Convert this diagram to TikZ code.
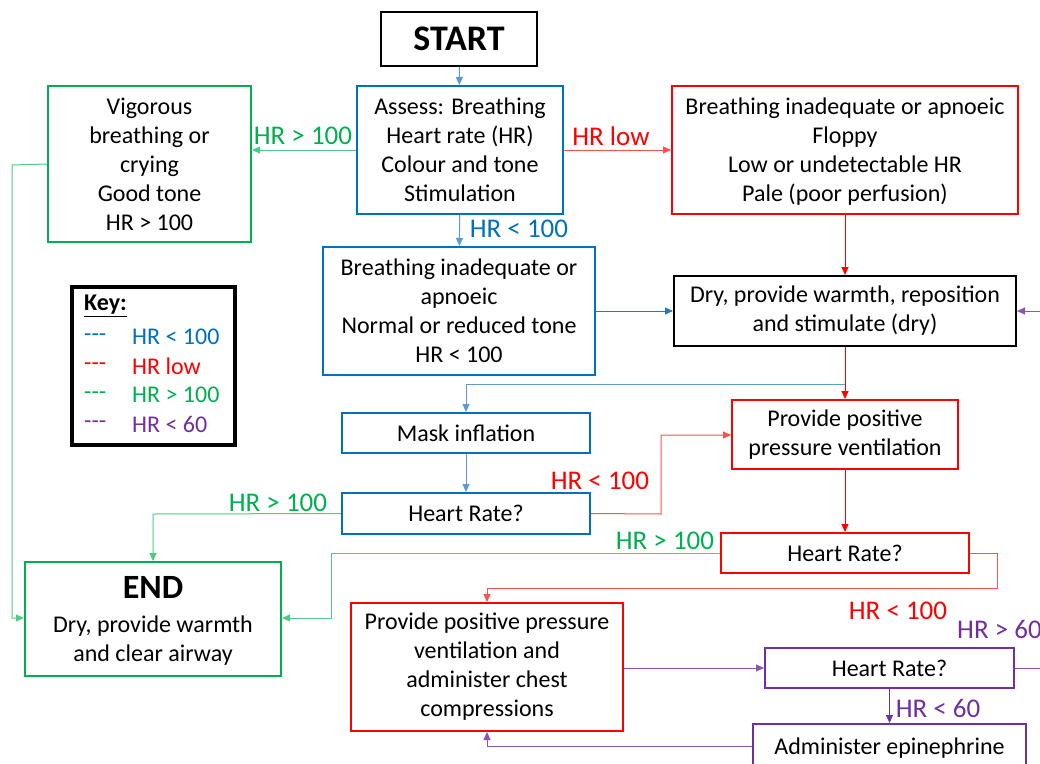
\documentclass[tikz,border=0pt]{standalone}
\usepackage{fontspec}
\setmainfont{Carlito}
\usetikzlibrary{arrows.meta}
\definecolor{cblue}{HTML}{0070C0}
\definecolor{lblue}{HTML}{5B9BD5}
\definecolor{mblue}{HTML}{2E75B6}
\definecolor{cred}{HTML}{FF0000}
\definecolor{lred}{HTML}{FF5050}
\definecolor{cgreen}{HTML}{00B050}
\definecolor{lgreen}{HTML}{4FCB85}
\definecolor{cpurple}{HTML}{7030A0}
\definecolor{lpurple}{HTML}{8A55B8}
\tikzset{
  box/.style={draw, line width=2pt, align=center, inner sep=0pt,
    font=\fontsize{24}{29}\selectfont, text=black},
  conn/.style={line width=1pt, -{Triangle[length=8pt,width=7pt]}},
  lbl/.style={inner sep=0pt, font=\fontsize{27}{30}\selectfont},
  keytxt/.style={inner sep=0pt, anchor=west, font=\fontsize{24}{28}\selectfont}
}
\begin{document}
\begin{tikzpicture}[x=1pt,y=-1pt]
\useasboundingbox (0,0) rectangle (1040,763);
\fill[white] (0,0) rectangle (1040,763);

% boxes
\node[box, minimum width=156pt, minimum height=54pt, line width=1.5pt]
  (start) at (459,39) {\fontsize{36}{40}\selectfont\bfseries START};
\node[box, draw=cblue, minimum width=206pt, minimum height=128pt]
  (assess) at (460,150) {Assess: Breathing\\Heart rate (HR)\\Colour and tone\\Stimulation};
\node[box, draw=cgreen, minimum width=203pt, minimum height=156pt]
  (vig) at (149.5,164) {Vigorous\\breathing or\\crying\\Good tone\\HR > 100};
\node[box, draw=cred, minimum width=346pt, minimum height=128pt]
  (floppy) at (845,150) {\raisebox{-2pt}[\height][\depth]{\begin{tabular}{@{}c@{}}Breathing inadequate or apnoeic\\Floppy\\Low or undetectable HR\\Pale (poor perfusion)\end{tabular}}};
\node[box, draw=cblue, minimum width=272pt, minimum height=128pt]
  (apn) at (459,311) {Breathing inadequate or\\apnoeic\\Normal or reduced tone\\HR < 100};
\node[box, minimum width=342pt, minimum height=70pt]
  (dry) at (845,311) {Dry, provide warmth, reposition\\and stimulate (dry)};
\node[box, draw=cblue, minimum width=248pt, minimum height=40pt]
  (mask) at (466,433) {Mask inflation};
\node[box, draw=cblue, minimum width=248pt, minimum height=41pt]
  (hrb) at (466,513.5) {Heart Rate?};
\node[box, draw=cred, minimum width=226pt, minimum height=69pt]
  (ppv) at (845,434.5) {Provide positive\\pressure ventilation};
\node[box, draw=cred, minimum width=248pt, minimum height=40pt]
  (hrr) at (845,553) {Heart Rate?};
\node[box, draw=cgreen, minimum width=256pt, minimum height=114pt]
  (end) at (153,619) {\raisebox{-4pt}[\height][\depth]{\begin{tabular}{@{}c@{}}{\fontsize{34}{36}\selectfont\bfseries END}\\[5pt]Dry, provide warmth\\and clear airway\end{tabular}}};
\node[box, draw=cred, minimum width=272pt, minimum height=128pt]
  (cc) at (487,667) {Provide positive pressure\\ventilation and\\administer chest\\compressions};
\node[box, draw=cpurple, minimum width=249pt, minimum height=40pt]
  (hrp) at (889.5,668) {Heart Rate?};
\node[box, draw=cpurple, minimum width=273pt, minimum height=44pt, text depth=0pt]
  (epi) at (889.5,746) {Administer epinephrine};

% key
\node[draw, line width=3.5pt, minimum width=163pt, minimum height=158pt, inner sep=0pt]
  (key) at (153.5,366) {};
\node[keytxt] (keyh) at (84,306) {\bfseries\underline{Key:}};
\node[keytxt, text=cblue] (k1a) at (84,338) {-{}-{}-};
\node[keytxt, text=cblue] (k1b) at (132,337) {HR < 100};
\node[keytxt, text=cred] (k2a) at (84,367) {-{}-{}-};
\node[keytxt, text=cred] (k2b) at (132,366) {HR low};
\node[keytxt, text=cgreen] (k3a) at (84,396) {-{}-{}-};
\node[keytxt, text=cgreen] (k3b) at (132,395) {HR > 100};
\node[keytxt, text=cpurple] (k4a) at (84,425) {-{}-{}-};
\node[keytxt, text=cpurple] (k4b) at (132,424) {HR < 60};

% connector bends
\coordinate (split) at (845,384);
\coordinate (bl1) at (153,514);
\coordinate (br1) at (661,514);
\coordinate (br2) at (661,435);
\coordinate (g1) at (331,553);
\coordinate (g2) at (331,618);
\coordinate (r1) at (997,553);
\coordinate (r2) at (997,588);
\coordinate (r3) at (487,588);
\coordinate (v1) at (12,165);
\coordinate (v2) at (12,618);
\coordinate (p1) at (1052,668);
\coordinate (p2) at (1052,311);
\coordinate (e1) at (487,746);

% connectors
\draw[conn, lblue] (start) -- (assess);
\draw[conn, lgreen] (assess.west) -- (assess.west -| vig.east);
\draw[conn, lred] (assess.east) -- (assess.east -| floppy.west);
\draw[conn, lblue] (assess) -- (apn);
\draw[conn, mblue] (apn.east) -- (dry.west);
\draw[conn, cred] (floppy) -- (dry);
\draw[conn, cred] (dry) -- (ppv);
\draw[conn, lblue] (split) -- (split -| mask) -- (mask);
\draw[conn, lblue] (mask) -- (hrb);
\draw[conn, lgreen] (hrb.west) -- (bl1) -- (end.north -| bl1);
\draw[conn, lred] (hrb.east) -- (br1) -- (br2) -- (br2 -| ppv.west);
\draw[conn, cred] (ppv) -- (hrr);
\draw[conn, lgreen] (hrr.west) -- (g1) -- (g2) -- (g2 -| end.east);
\draw[conn, lred] (hrr.east) -- (r1) -- (r2) -- (r3) -- (cc.north);
\draw[conn, lgreen] (vig.west) -- (v1) -- (v2) -- (v2 -| end.west);
\draw[conn, lpurple] (cc.east |- hrp) -- (hrp.west);
\draw[conn, lpurple] (hrp.east) -- (p1) -- (p2) -- (dry.east);
\draw[conn, cpurple] (hrp) -- (epi);
\draw[conn, lpurple] (epi.west) -- (e1) -- (cc.south);

% branch labels
\node[lbl, text=cgreen] (l1) at (303,136) {HR > 100};
\node[lbl, text=cred] (l2) at (611,136) {HR low};
\node[lbl, text=cblue] (l3) at (519,229) {HR < 100};
\node[lbl, text=cgreen] (l4) at (278,503) {HR > 100};
\node[lbl, text=cred] (l5) at (600,481) {HR < 100};
\node[lbl, text=cgreen] (l6) at (665,541) {HR > 100};
\node[lbl, text=cred] (l7) at (898,611) {HR < 100};
\node[lbl, text=cpurple, anchor=west] (l8) at (957,629) {HR > 60};
\node[lbl, text=cpurple] (l9) at (938,708) {HR < 60};
\end{tikzpicture}
\end{document}
